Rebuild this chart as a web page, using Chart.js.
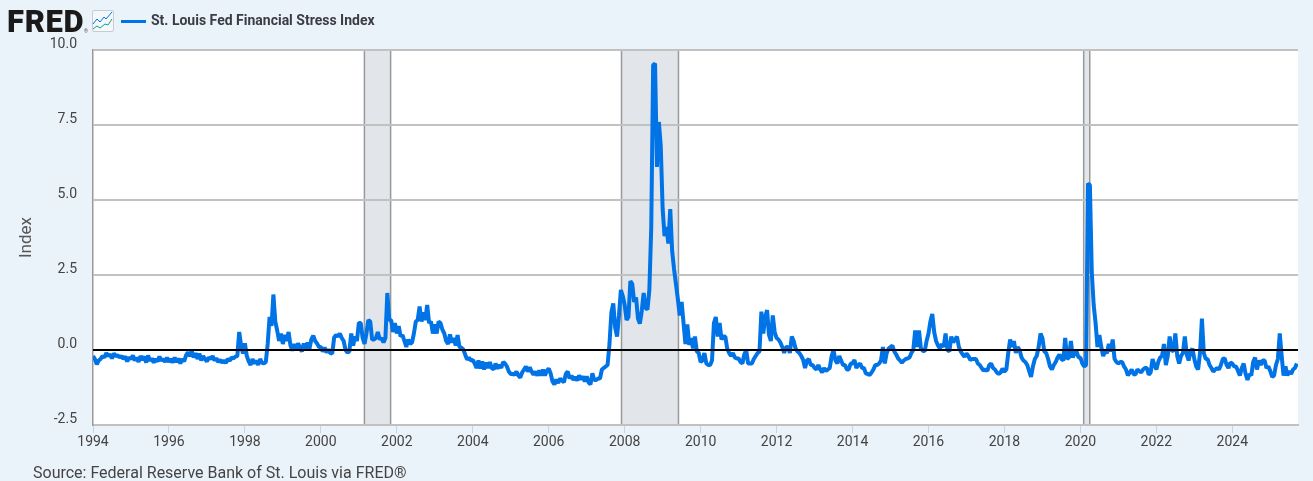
<!DOCTYPE html>
<html>
<head>
<meta charset="utf-8">
<title>St. Louis Fed Financial Stress Index</title>
<script src="https://cdn.jsdelivr.net/npm/chart.js@4"></script>
<style>
  html, body { margin: 0; padding: 0; background: #eaf2fa; overflow: hidden; }
  #wrap { position: relative; width: 1313px; height: 481px; font-family: Roboto, sans-serif; overflow: hidden; }
  #chart { position: absolute; left: 0; top: 0; }
  #logo { position: absolute; left: 7px; top: 4px; font: 900 31px Roboto, sans-serif; letter-spacing: 0.7px; color: #1a1a1a; line-height: 36px; }
  #logo sup { font-size: 5px; font-weight: 400; letter-spacing: 0; color: #555; position: absolute; left: 77px; top: 25px; line-height: 5px; }
  #icon { position: absolute; left: 92px; top: 10px; }
  #legendLine { position: absolute; left: 121px; top: 20px; width: 25px; height: 3px; background: #0073e6; }
  #legendText { position: absolute; left: 151px; top: 12px; font: 700 14px/16px Roboto, sans-serif; color: #3c3c44; white-space: nowrap; }
  #source { position: absolute; left: 33px; top: 464px; font: 400 16px/18px Roboto, sans-serif; color: #444; white-space: nowrap; }
</style>
</head>
<body>
<div id="wrap">
  <canvas id="chart" width="1313" height="481"></canvas>
  <div id="logo">FRED<sup>®</sup></div>
  <svg id="icon" width="22" height="23" viewBox="0 0 22 23">
    <rect x="0.5" y="0.5" width="21" height="21" rx="1.5" fill="#f4f8fb" stroke="#c8ccd0"/>
    <polyline points="1,14 5,9 8,12 12,7 14,9 20,2" fill="none" stroke="#0073e6" stroke-width="1"/>
    <polyline points="1,19 5,16 8,18 13,14 16,15 20,9" fill="none" stroke="#12a386" stroke-width="1"/>
  </svg>
  <div id="legendLine"></div>
  <div id="legendText">St. Louis Fed Financial Stress Index</div>
  <div id="source">Source: Federal Reserve Bank of St. Louis via FRED®</div>
</div>
<script>
// valores, um ponto a cada 0.05 ano
const stress1994 = [-.2,-.3,-.48,-.35,-.3,-.2,-.25,-.1,-.2,-.15,-.28,-.12,-.2,-.18,-.25,-.2,-.3,-.22,-.38,-.25];
const stress1995 = [-.3,-.18,-.35,-.25,-.4,-.2,-.33,-.22,-.42,-.18,-.36,-.28,-.42,-.3,-.38,-.22,-.35,-.3,-.4,-.25];
const stress1996 = [-.4,-.3,-.42,-.25,-.4,-.28,-.45,-.3,-.38,-.18,-.08,-.2,-.02,-.25,-.1,-.3,-.12,-.35,-.2,-.3];
const stress1997 = [-.38,-.25,-.3,-.2,-.35,-.28,-.4,-.33,-.42,-.35,-.43,-.3,-.36,-.25,-.28,-.22,-.2,.6,.15,-.12];
const stress1998 = [.22,-.2,-.38,-.5,-.3,-.45,-.35,-.5,-.3,-.42,-.45,-.4,.2,1.1,.8,1.85,.95,.65,.3,.55];
const stress1999 = [.2,.5,.3,.6,.15,-.02,.2,.05,.22,.08,-.05,.22,0,.25,.05,.35,.48,.3,.22,.1];
const stress2000 = [.1,-.05,.08,-.08,.02,-.1,-.12,.42,.5,.45,.55,.4,.3,0,-.08,-.05,.55,.15,.45,.3];
const stress2001 = [.9,.9,.4,.2,.55,1,.95,.35,.35,.4,.6,.35,.4,.25,.4,1.9,1,1,.6,.9];
const stress2002 = [.55,.8,.45,.5,.3,.1,.35,.2,.25,.55,.95,1,1.45,.95,1.25,1,1.5,.9,.95,.55];
const stress2003 = [.85,.55,.95,.9,.68,.55,.3,.2,.52,.25,.4,.15,.5,.1,.08,.02,-.15,-.32,-.25,-.35];
const stress2004 = [-.33,-.45,-.6,-.35,-.62,-.38,-.65,-.42,-.6,-.4,-.6,-.65,-.45,-.62,-.5,-.6,-.4,-.45,-.55,-.72];
const stress2005 = [-.8,-.8,-.82,-.72,-.85,-.92,-.75,-.65,-.55,-.72,-.58,-.72,-.82,-.72,-.85,-.68,-.85,-.65,-.85,-.7];
const stress2006 = [-.62,-.78,-1.05,-1.15,-.98,-1.1,-.95,-1.02,-1.08,-.8,-.72,-.95,-.85,-1,-.9,-1.02,-.85,-.98,-.88,-1.05];
const stress2007 = [-.88,-1.08,-1.15,-.78,-1,-1,-.95,-.95,-.65,-.6,-.55,-.5,.2,1.25,1.55,.75,.45,1.15,2,1.8];
const stress2008 = [1.5,1,1.1,2.3,2.2,1.6,1.75,1.05,.88,1.3,1.9,1.4,1.35,2,4.1,9.5,9.55,6.1,7.6,6.8];
const stress2009 = [4.7,3.8,4.1,3.55,4.7,3.3,2.7,2.2,1.7,1.15,1.6,.9,.2,.85,.17,.4,.05,.45,-.05,-.1];
const stress2010 = [-.4,-.35,-.1,-.45,-.5,-.5,-.35,.9,1.1,.45,.9,.35,.45,.45,.05,-.1,-.2,-.1,-.25,-.28];
const stress2011 = [-.28,-.4,-.45,-.15,0,-.45,-.45,-.45,-.3,-.2,-.1,-.05,1.28,.55,1.1,1.33,.5,.3,1.15,.6];
const stress2012 = [.4,.35,.25,.1,-.1,.1,.1,-.1,.45,.3,.05,-.05,-.1,-.2,-.33,-.6,-.35,-.3,-.5,-.5];
const stress2013 = [-.6,-.65,-.5,-.65,-.75,-.6,-.7,-.65,-.6,-.2,0,-.35,-.45,-.2,-.35,-.5,-.5,-.65,-.65,-.45];
const stress2014 = [-.45,-.33,-.6,-.5,-.45,-.6,-.6,-.78,-.8,-.83,-.75,-.65,-.5,-.5,-.45,-.35,.1,-.45,-.1,.05];
const stress2015 = [.1,.15,-.05,-.15,-.28,-.35,-.42,-.35,-.3,-.28,-.25,-.1,0,.65,.1,.65,.05,-.02,-.05,.3];
const stress2016 = [.55,.95,1.2,.6,.3,.15,.05,.2,.1,.55,0,-.05,.45,.25,.35,.45,.1,-.05,-.15,-.22];
const stress2017 = [-.12,-.2,-.33,-.3,-.3,-.3,-.45,-.5,-.6,-.68,-.65,-.7,-.5,-.45,-.6,-.65,-.75,-.8,-.75,-.62];
const stress2018 = [-.72,-.65,-.1,.35,.1,.3,-.1,.1,0,-.25,-.35,-.4,-.5,-.7,-.9,-.55,-.3,-.2,.1,.55];
const stress2019 = [.4,-.05,-.1,-.3,-.55,-.65,-.5,-.4,-.25,-.15,-.3,-.35,.4,-.3,-.25,.3,-.25,-.1,-.05,-.25];
const stress2020 = [-.25,-.45,-.55,-.5,5.55,5.5,2.6,1.5,.9,.1,.5,.1,-.2,-.05,-.1,.2,-.05,.35,-.3,-.4];
const stress2021 = [-.45,-.4,-.4,-.55,-.65,-.85,-.75,-.65,-.8,-.82,-.65,-.7,-.75,-.65,-.6,-.6,-.82,-.75,-.3,-.5];
const stress2022 = [-.65,-.4,-.25,-.2,.2,-.5,-.2,.45,0,-.05,.55,-.2,-.45,-.2,-.1,.45,-.15,-.35,-.05,.05];
const stress2023 = [-.3,-.55,-.65,-.1,1.05,-.1,-.3,-.3,-.5,-.6,-.72,-.65,-.6,-.65,-.5,-.3,-.28,-.5,-.6,-.42];
const stress2024 = [-.45,-.55,-.55,-.7,-.85,-.6,-.45,-.8,-1,-.8,-.85,-.4,-.25,-.65,-.35,-.5,-.35,-.35,-.6,-.55];
const stress2025 = [-.7,-.9,-.85,-.5,-.3,.55,-.2,-.85,-.55,-.85,-.7,-.8,-.65,-.6,-.45];

const stressYears = [stress1994, stress1995, stress1996, stress1997, stress1998, stress1999, stress2000, stress2001,
  stress2002, stress2003, stress2004, stress2005, stress2006, stress2007, stress2008, stress2009, stress2010, stress2011,
  stress2012, stress2013, stress2014, stress2015, stress2016, stress2017, stress2018, stress2019, stress2020, stress2021,
  stress2022, stress2023, stress2024, stress2025];

const recessionStart = [2001.14, 2007.91, 2020.08];
const recessionEnd = [2001.83, 2009.41, 2020.24];
const firstYear = 1994;
const lastYear = 2025.73;

// junta os anos em uma lista de pontos
const stressPoints = [];
stressYears.forEach(function (values, y) {
  values.forEach(function (v, i) {
    stressPoints.push({ x: firstYear + y + i * 0.05, y: v });
  });
});

// fundo branco e faixas de recessao antes da grade
const plotBackground = {
  id: "plotBackground",
  beforeDraw(chart) {
    const c = chart.ctx, a = chart.chartArea, sx = chart.scales.x;
    c.save();
    c.fillStyle = "#fff";
    c.fillRect(a.left, a.top, a.right - a.left, a.bottom - a.top);
    for (let i = 0; i < recessionStart.length; i++) {
      const x0 = sx.getPixelForValue(recessionStart[i]);
      const x1 = sx.getPixelForValue(recessionEnd[i]);
      c.fillStyle = "#e2e6ea";
      c.fillRect(x0, a.top, x1 - x0, a.bottom - a.top);
      c.fillStyle = "#999";
      c.fillRect(x0 - 0.5, a.top, 1.5, a.bottom - a.top);
      c.fillRect(x1 - 0.5, a.top, 1.5, a.bottom - a.top);
    }
    c.restore();
  },
};

const tickFont = { family: "Roboto, sans-serif", size: 14 };
const config = {
  type: "line",
  data: {
    datasets: [
      {
        label: "St. Louis Fed Financial Stress Index",
        data: stressPoints,
        borderColor: "#0073e6",
        backgroundColor: "#0073e6",
        borderWidth: 4,
        borderJoinStyle: "bevel",
        pointRadius: 0,
        tension: 0,
        order: 1,
      },
      {
        label: "Zero",
        data: [{ x: firstYear, y: 0 }, { x: lastYear, y: 0 }],
        borderColor: "#000",
        borderWidth: 2,
        pointRadius: 0,
        order: 0,
      },
    ],
  },
  options: {
    responsive: false,
    animation: false,
    parsing: false,
    layout: { padding: { left: 0, top: 50, right: 15, bottom: 0 } },
    plugins: { legend: { display: false }, tooltip: { enabled: false } },
    scales: {
      x: {
        type: "linear",
        min: firstYear,
        max: lastYear,
        afterFit(scale) { scale.height = 56; },
        afterBuildTicks(scale) {
          scale.ticks = [];
          for (let y = firstYear; y <= 2024; y += 2) scale.ticks.push({ value: y });
        },
        grid: { drawOnChartArea: false, drawTicks: true, tickLength: 8, tickColor: "#c5d3e8", tickWidth: 1 },
        border: { color: "#c1c1c1", width: 2 },
        ticks: {
          color: "#444",
          font: tickFont,
          maxRotation: 0,
          autoSkip: false,
          padding: 1,
          callback: function (v) { return String(v); },
        },
      },
      y: {
        min: -2.5,
        max: 10,
        afterFit(scale) { scale.width = 93; },
        grid: { color: "#c1c1c1", lineWidth: 2, drawTicks: false },
        border: { color: "#999", width: 1.5 },
        ticks: {
          stepSize: 2.5,
          color: "#444",
          font: tickFont,
          padding: 16,
          labelOffset: -6,
          callback: function (v) { return v.toFixed(1); },
        },
        title: {
          display: true,
          text: "Index",
          color: "#555",
          font: { family: "Roboto, sans-serif", size: 17 },
          padding: { top: 17, bottom: 0 },
        },
      },
    },
  },
};

const myChart = new Chart(document.getElementById("chart"), Object.assign(config, { plugins: [plotBackground] }));
</script>
</body>
</html>
